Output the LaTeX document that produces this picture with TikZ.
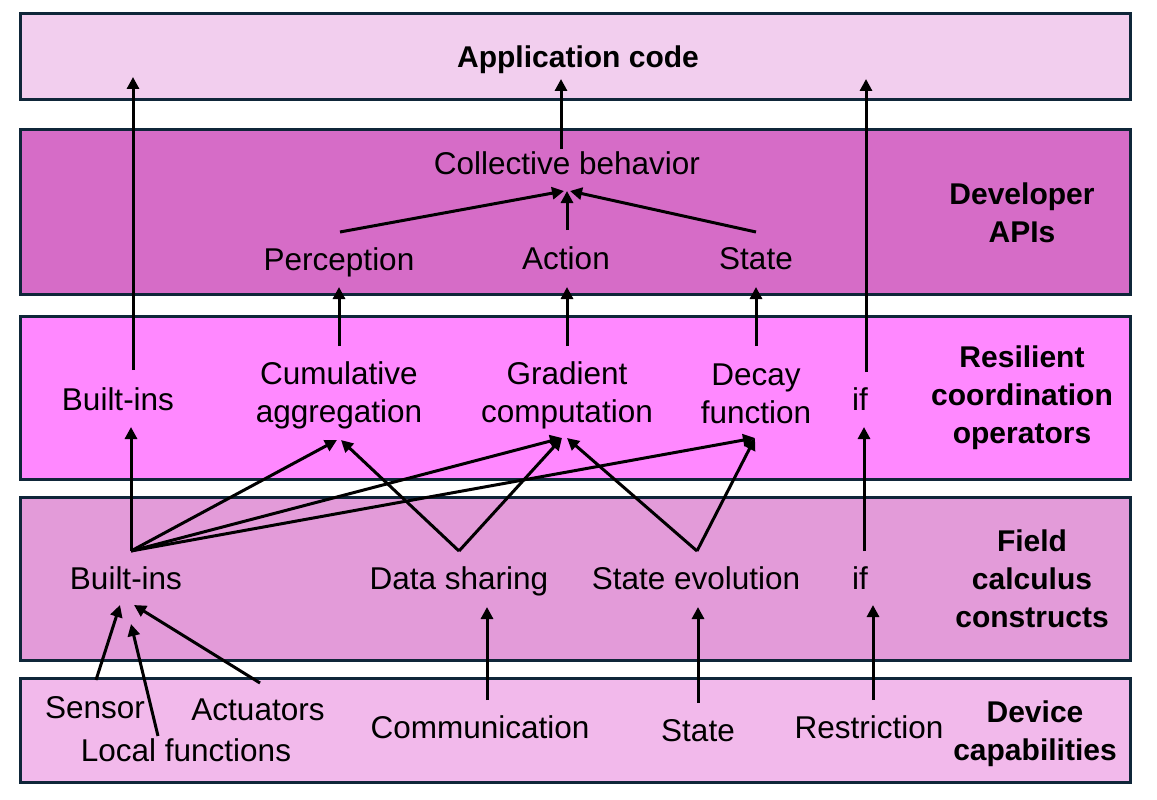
\documentclass[tikz,border=0pt]{standalone}
\usepackage{fontspec}
\setmainfont{Liberation Sans}
\usetikzlibrary{arrows.meta}
\definecolor{cApp}{HTML}{F2CEEE}
\definecolor{cDev}{HTML}{D66CC7}
\definecolor{cRes}{HTML}{FF88FF}
\definecolor{cField}{HTML}{E39BD9}
\definecolor{cCap}{HTML}{F2B9EB}
\definecolor{cBorder}{HTML}{0F2639}
\tikzset{
  layer/.style={draw=cBorder, line width=3pt},
  lbl/.style={font=\fontsize{31.5}{37.5}\selectfont, inner sep=0pt, align=center},
  bold/.style={font=\fontsize{30}{38}\selectfont\bfseries, inner sep=0pt, align=center},
  conn/.style={line width=3pt, -{Triangle[length=12pt,width=12pt]}},
  plain/.style={line width=3pt}
}
\begin{document}
\begin{tikzpicture}[x=1pt,y=-1pt]
\useasboundingbox (0,0) rectangle (1157,800);
% layers
\fill[white] (0,0) rectangle (1157,800);
\path[layer, fill=cApp]   (20,14)  rectangle (1130,99);
\path[layer, fill=cDev]   (20,129) rectangle (1130,294);
\path[layer, fill=cRes]   (20,316) rectangle (1130,479);
\path[layer, fill=cField] (20,497) rectangle (1130,660);
\path[layer, fill=cCap]   (20,678) rectangle (1130,782);

% texts
\node[bold, anchor=base] (app) at (578,68) {Application code};
\node[lbl, anchor=base] (coll) at (567,174) {Collective behavior};
\node[lbl, anchor=base] (perc) at (339,270) {Perception};
\node[lbl, anchor=base] (act) at (566,269) {Action};
\node[lbl, anchor=base] (st1) at (756,269) {State};
\node[bold] (devapi) at (1022,213) {Developer\\APIs};

\node[lbl, anchor=base] (bir) at (118,410) {Built-ins};
\node[lbl] (cum) at (339,395.5) {Cumulative\\aggregation};
\node[lbl] (grad) at (567,395.5) {Gradient\\computation};
\node[lbl] (decay) at (756,394) {Decay\\function};
\node[lbl, anchor=base] (ifr) at (860,410) {if};
\node[bold] (resop) at (1022,398) {Resilient\\coordination\\operators};

\node[lbl, anchor=base] (bif) at (126,589) {Built-ins};
\node[lbl, anchor=base] (ds) at (459,589) {Data sharing};
\node[lbl, anchor=base] (se) at (696,589) {State evolution};
\node[lbl, anchor=base] (iff) at (860,589) {if};
\node[bold] (fcc) at (1032,579) {Field\\calculus\\constructs};

\node[lbl, anchor=base] (sens) at (95,718) {Sensor};
\node[lbl, anchor=base] (actu) at (258,720) {Actuators};
\node[lbl, anchor=base] (locf) at (186,761) {Local functions};
\node[lbl, anchor=base] (comm) at (480,738) {Communication};
\node[lbl, anchor=base] (st2) at (698,741) {State};
\node[lbl, anchor=base] (restr) at (869,738) {Restriction};
\node[bold] (devcap) at (1035,734) {Device\\capabilities};

% connection points
\coordinate (appA) at (133,77);
\coordinate (appB) at (561,79);
\coordinate (appC) at (866,79);
\coordinate (collTop) at (561,149);
\coordinate (collInL) at (564,191);
\coordinate (collIn) at (567,191);
\coordinate (collInR) at (570,191);
\coordinate (percOut) at (340,232);
\coordinate (actOut) at (567,230);
\coordinate (stOut) at (756,232);
\coordinate (percIn) at (339,287);
\coordinate (actIn) at (567,287);
\coordinate (stIn) at (756,287);
\coordinate (cumOut) at (339,346);
\coordinate (gradOut) at (567,346);
\coordinate (decOut) at (756,346);
\coordinate (birOut) at (133,370);
\coordinate (ifrOut) at (866,372);
\coordinate (birIn) at (131,427);
\coordinate (ifrIn) at (864,427);
\coordinate (cumInL) at (337,440);
\coordinate (cumInR) at (341,440);
\coordinate (gradInL) at (562,438);
\coordinate (gradInR) at (567,438);
\coordinate (decIn) at (755,438);
\coordinate (hubB) at (131,551);
\coordinate (hubD) at (459,551);
\coordinate (hubS) at (697,551);
\coordinate (hubI) at (864,551);
\coordinate (bifInA) at (120,605);
\coordinate (bifInB) at (131,624);
\coordinate (bifInC) at (134,605);
\coordinate (dsIn) at (487,607);
\coordinate (seIn) at (698,607);
\coordinate (iffIn) at (873,605);
\coordinate (sensOut) at (96,680);
\coordinate (locOut) at (158,736);
\coordinate (actuOut) at (260,683);
\coordinate (commOut) at (487,700);
\coordinate (st2Out) at (698,703);
\coordinate (restrOut) at (873,700);

% arrows
\draw[conn] (collTop) -- (appB);
\draw[conn] (percOut) -- (collInL);
\draw[conn] (actOut) -- (collIn);
\draw[conn] (stOut) -- (collInR);
\draw[conn] (cumOut) -- (percIn);
\draw[conn] (gradOut) -- (actIn);
\draw[conn] (decOut) -- (stIn);
\draw[conn] (birOut) -- (appA);
\draw[conn] (ifrOut) -- (appC);
\draw[conn] (hubB) -- (birIn);
\draw[conn] (hubB) -- (cumInL);
\draw[conn] (hubB) -- (gradInL);
\draw[conn] (hubB) -- (decIn);
\draw[conn] (hubD) -- (cumInR);
\draw[conn] (hubD) -- (gradInL);
\draw[conn] (hubS) -- (gradInR);
\draw[conn] (hubS) -- (decIn);
\draw[conn] (hubI) -- (ifrIn);
\draw[conn] (sensOut) -- (bifInA);
\draw[conn] (locOut) -- (bifInB);
\draw[conn] (actuOut) -- (bifInC);
\draw[conn] (commOut) -- (dsIn);
\draw[conn] (st2Out) -- (seIn);
\draw[conn] (restrOut) -- (iffIn);
\end{tikzpicture}
\end{document}
